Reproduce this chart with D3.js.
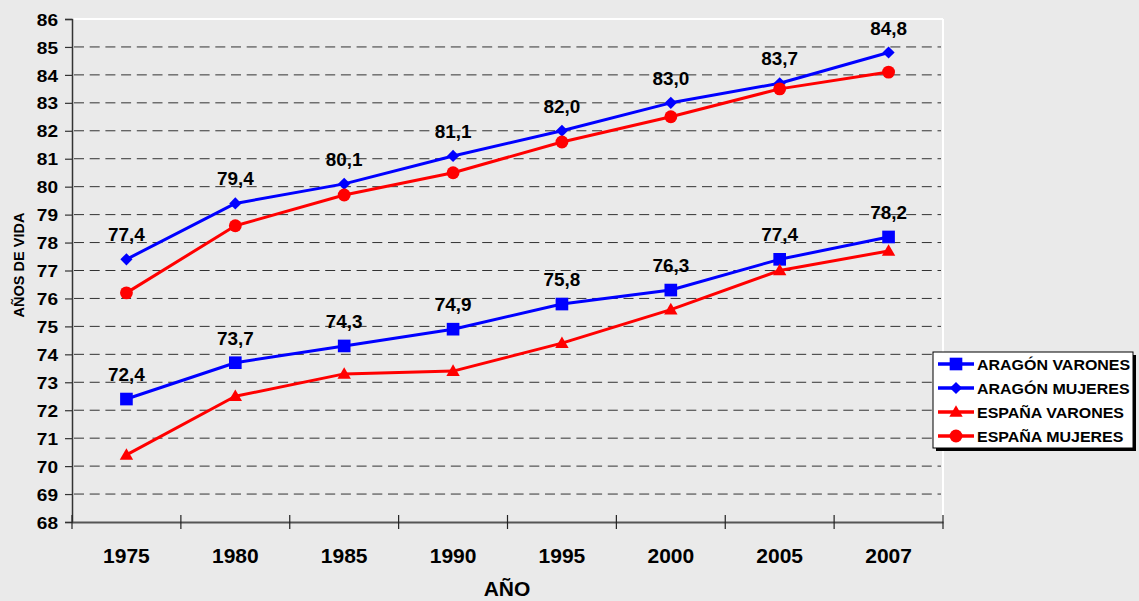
<!DOCTYPE html>
<html>
<head>
<meta charset="utf-8">
<script src="https://cdn.jsdelivr.net/npm/d3@7"></script>
<style>
  html, body { margin: 0; padding: 0; background: #eaeaea; }
  svg { display: block; }
  text { font-family: "Liberation Sans", Arial, sans-serif; font-weight: bold; fill: #000; }
</style>
</head>
<body>
<svg id="chart" width="1139" height="601"></svg>
<script>
const years = ["1975", "1980", "1985", "1990", "1995", "2000", "2005", "2007"];
const aragonVarones = [72.4, 73.7, 74.3, 74.9, 75.8, 76.3, 77.4, 78.2];
const aragonMujeres = [77.4, 79.4, 80.1, 81.1, 82.0, 83.0, 83.7, 84.8];
const espanaVarones = [70.4, 72.5, 73.3, 73.4, 74.4, 75.6, 77.0, 77.7];
const espanaMujeres = [76.2, 78.6, 79.7, 80.5, 81.6, 82.5, 83.5, 84.1];
const yTicks = d3.range(68, 87, 1);
const seriesNames = ["ARAGÓN VARONES", "ARAGÓN MUJERES", "ESPAÑA VARONES", "ESPAÑA MUJERES"];

const series = [
  { name: seriesNames[0], values: aragonVarones, color: "#0000ff", marker: "square", labels: true },
  { name: seriesNames[1], values: aragonMujeres, color: "#0000ff", marker: "diamond", labels: true },
  { name: seriesNames[2], values: espanaVarones, color: "#ff0000", marker: "triangle", labels: false },
  { name: seriesNames[3], values: espanaMujeres, color: "#ff0000", marker: "circle", labels: false }
];

const svg = d3.select("#chart");
const L = 72, R = 943, T = 19, B = 522;

const x = d3.scaleBand().domain(years).range([L, R]);
const y = d3.scaleLinear().domain([68, 86]).range([B, T]);
const cx = d => x(d) + x.bandwidth() / 2;

function stretch(sel, k) {
  sel.each(function () {
    const w = this.getComputedTextLength();
    d3.select(this).attr("textLength", w * k).attr("lengthAdjust", "spacingAndGlyphs");
  });
}

svg.append("rect").attr("width", 1139).attr("height", 601).attr("fill", "#eaeaea");

// plot area border (white top/right)
svg.append("line").attr("x1", L).attr("x2", R).attr("y1", T).attr("y2", T)
  .attr("stroke", "#ffffff").attr("stroke-width", 2);
svg.append("line").attr("x1", R).attr("x2", R).attr("y1", T).attr("y2", B)
  .attr("stroke", "#ffffff").attr("stroke-width", 2);

// gridlines
svg.append("g").selectAll("line")
  .data(yTicks.filter(v => v > 68 && v < 86))
  .join("line")
  .attr("x1", L + 2).attr("x2", R - 2)
  .attr("y1", d => y(d)).attr("y2", d => y(d))
  .attr("stroke", "#333").attr("stroke-width", 1)
  .attr("stroke-dasharray", "10,5.7");

// y axis
const yAxis = svg.append("g").attr("transform", `translate(${L},0)`)
  .call(d3.axisLeft(y).tickValues(yTicks).tickSize(7).tickPadding(7).tickFormat(d3.format("d")));
yAxis.select(".domain").attr("stroke", "#333").attr("stroke-width", 1.5);
yAxis.selectAll(".tick line").attr("stroke", "#333").attr("stroke-width", 1.2);
yAxis.selectAll(".tick text").style("font-size", "17px").style("font-family", "Liberation Sans, Arial, sans-serif")
  .style("font-weight", "bold").attr("fill", "#000").attr("dy", "0.36em");
stretch(yAxis.selectAll(".tick text"), 1.12);

// x axis
const xAxis = svg.append("g").attr("transform", `translate(0,${B})`)
  .call(d3.axisBottom(x).tickSize(0).tickPadding(26));
xAxis.select(".domain").attr("stroke", "#555").attr("stroke-width", 2);
xAxis.selectAll(".tick text").style("font-size", "21px").style("font-family", "Liberation Sans, Arial, sans-serif")
  .style("font-weight", "bold").attr("fill", "#000");
// boundary ticks
const bounds = years.map(d => x(d)).concat([x(years[years.length - 1]) + x.step()]);
svg.append("g").selectAll("line").data(bounds).join("line")
  .attr("x1", d => d).attr("x2", d => d).attr("y1", B - 7).attr("y2", B + 7)
  .attr("stroke", "#222").attr("stroke-width", 1.2);

// axis titles
svg.append("text").attr("x", 507).attr("y", 596).attr("text-anchor", "middle")
  .style("font-size", "21px").text("AÑO");
svg.append("text").attr("transform", "translate(24,265) rotate(-90)").attr("text-anchor", "middle")
  .style("font-size", "14.5px").text("AÑOS DE VIDA");

// markers
function drawMarker(g, type, color) {
  if (type === "square") {
    g.append("path").attr("d", d3.symbol(d3.symbolSquare, 160)()).attr("fill", color);
  } else if (type === "diamond") {
    g.append("path").attr("d", d3.symbol(d3.symbolSquare, 74)()).attr("transform", "rotate(45)").attr("fill", color);
  } else if (type === "triangle") {
    g.append("path").attr("d", d3.symbol(d3.symbolTriangle, 78)()).attr("transform", "translate(0,1)").attr("fill", color);
  } else {
    g.append("path").attr("d", d3.symbol(d3.symbolCircle, 130)()).attr("fill", color);
  }
}

const line = d3.line().x((d, i) => cx(years[i])).y(d => y(d));

series.forEach(s => {
  svg.append("path").datum(s.values).attr("d", line)
    .attr("fill", "none").attr("stroke", s.color).attr("stroke-width", 3).attr("stroke-linejoin", "round");
});
series.forEach(s => {
  s.values.forEach((v, i) => {
    const g = svg.append("g").attr("transform", `translate(${cx(years[i])},${y(v)})`);
    drawMarker(g, s.marker, s.color);
  });
});
series.filter(s => s.labels).forEach(s => {
  const t = svg.append("g").selectAll("text").data(s.values).join("text")
    .attr("x", (d, i) => cx(years[i])).attr("y", d => y(d) - 18)
    .attr("text-anchor", "middle").style("font-size", "17.5px")
    .text(d => d3.format(".1f")(d).replace(".", ","));
  stretch(t, 1.08);
});

// legend
const lg = svg.append("g");
lg.append("rect").attr("x", 936).attr("y", 355).attr("width", 200).attr("height", 96).attr("fill", "#000");
lg.append("rect").attr("x", 933).attr("y", 352).attr("width", 200).attr("height", 96)
  .attr("fill", "#fff").attr("stroke", "#000").attr("stroke-width", 1);
series.forEach((s, i) => {
  const yy = 364 + i * 24;
  lg.append("line").attr("x1", 938).attr("x2", 974).attr("y1", yy).attr("y2", yy)
    .attr("stroke", s.color).attr("stroke-width", 3.5);
  const g = lg.append("g").attr("transform", `translate(956,${yy})`);
  drawMarker(g, s.marker, s.color);
  const t = lg.append("text").attr("x", 977).attr("y", yy + 6).style("font-size", "15.5px").text(s.name);
  stretch(t, 1.03);
});
</script>
</body>
</html>
